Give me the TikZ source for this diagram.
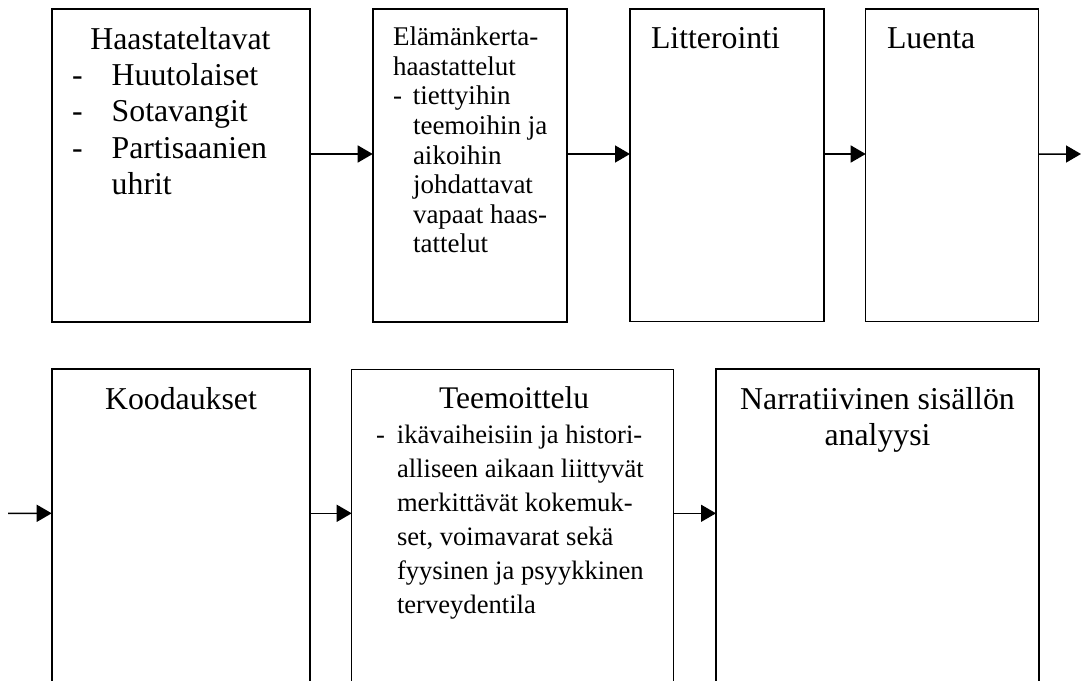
\documentclass[tikz,border=0pt]{standalone}
\usepackage{fontspec}
\setmainfont{Liberation Serif}
\usetikzlibrary{arrows.meta}
\newcommand\myfs[2]{\fontsize{#1pt}{#2pt}\selectfont}
\begin{document}
\begin{tikzpicture}[x=1pt,y=-1pt,
  box/.style={draw=black, line width=1.8pt, rectangle, inner sep=0pt, outer sep=0pt, anchor=north west},
  thinbox/.style={box, line width=1.3pt},
  arr/.style={line width=1.5pt, -{Triangle[length=15pt,width=17pt]}},
  txt/.style={inner sep=0pt, outer sep=0pt, text=black}]
\useasboundingbox (0,0) rectangle (1083,680);
\fill[white] (0,0) rectangle (1083,680);
\clip (0,0) rectangle (1083,680);

% top row
\node[box, minimum width=258.3pt, minimum height=312.7pt] (b1) at (51.7,9) {};
\node[box, minimum width=194pt, minimum height=312.7pt] (b2) at (372.7,9) {};
\node[thinbox, minimum width=194pt, minimum height=312.7pt] (b3) at (630,9) {};
\node[thinbox, minimum width=172.6pt, minimum height=312.7pt] (b4) at (865.7,9) {};
\coordinate (exit) at (1081,154);

% bottom row
\node[box, minimum width=258.3pt, minimum height=320.7pt] (b5) at (51.7,369.3) {};
\node[thinbox, minimum width=321.6pt, minimum height=320.7pt] (b6) at (351.7,369.3) {};
\node[box, minimum width=323pt, minimum height=320.7pt] (b7) at (716,369.3) {};
\coordinate (enter) at (8,513.3);

% connectors
\draw[arr] ([yshift=11.35pt]b1.east) -- ([yshift=11.35pt]b2.west);
\draw[arr] ([yshift=11.35pt]b2.east) -- ([yshift=11.35pt]b3.west);
\draw[arr] ([yshift=11.35pt]b3.east) -- ([yshift=11.35pt]b4.west);
\draw[arr] ([yshift=11.35pt]b4.east) -- (exit);
\draw[arr] (enter) -- ([yshift=16.35pt]b5.west);
\draw[arr] ([yshift=16.35pt]b5.east) -- ([yshift=16.35pt]b6.west);
\draw[arr] ([yshift=16.35pt]b6.east) -- ([yshift=16.35pt]b7.west);

% texts
\node[txt, anchor=base] (t1) at (180.4,49.3) {\myfs{31.8}{36.6}Haastateltavat};
\node[txt, anchor=base west] (t1l) at (72,85) {\myfs{31.8}{36.6}\parbox[t]{230pt}{\raggedright
  \makebox[39.7pt][l]{-}Huutolaiset\\\makebox[39.7pt][l]{-}Sotavangit\\\makebox[39.7pt][l]{-}Partisaanien\\\hspace*{39.7pt}uhrit}};

\node[txt, anchor=base west] (t2) at (393,45.7) {\myfs{27}{29.6}\parbox[t]{175pt}{\raggedright
  Elämänkerta-\\haastattelut\\\makebox[20pt][l]{-}tiettyihin\\\hspace*{20pt}teemoihin ja\\\hspace*{20pt}aikoihin\\\hspace*{20pt}johdattavat\\\hspace*{20pt}vapaat haas-\\\hspace*{20pt}tattelut}};

\node[txt, anchor=base west] (t3) at (651,48) {\myfs{31.8}{36}Litterointi};
\node[txt, anchor=base west] (t4) at (887,48) {\myfs{31.8}{36}Luenta};

\node[txt, anchor=base] (t5) at (181,409) {\myfs{31.8}{36}Koodaukset};

\node[txt, anchor=base] (t6) at (514,408) {\myfs{31.5}{36}Teemoittelu};
\node[txt, anchor=base west] (t6l) at (376,443) {\myfs{26.6}{34}\parbox[t]{292pt}{\raggedright
  \makebox[21pt][l]{-}ikävaiheisiin ja histori-\\\hspace*{21pt}alliseen aikaan liittyvät\\\hspace*{21pt}merkittävät kokemuk-\\\hspace*{21pt}set, voimavarat sekä\\\hspace*{21pt}fyysinen ja psyykkinen\\\hspace*{21pt}terveydentila}};

\node[txt, anchor=base] (t7) at (877.5,409) {\myfs{31.8}{36}\parbox[t]{310pt}{\centering Narratiivinen sisällön\\analyysi}};
\end{tikzpicture}
\end{document}
